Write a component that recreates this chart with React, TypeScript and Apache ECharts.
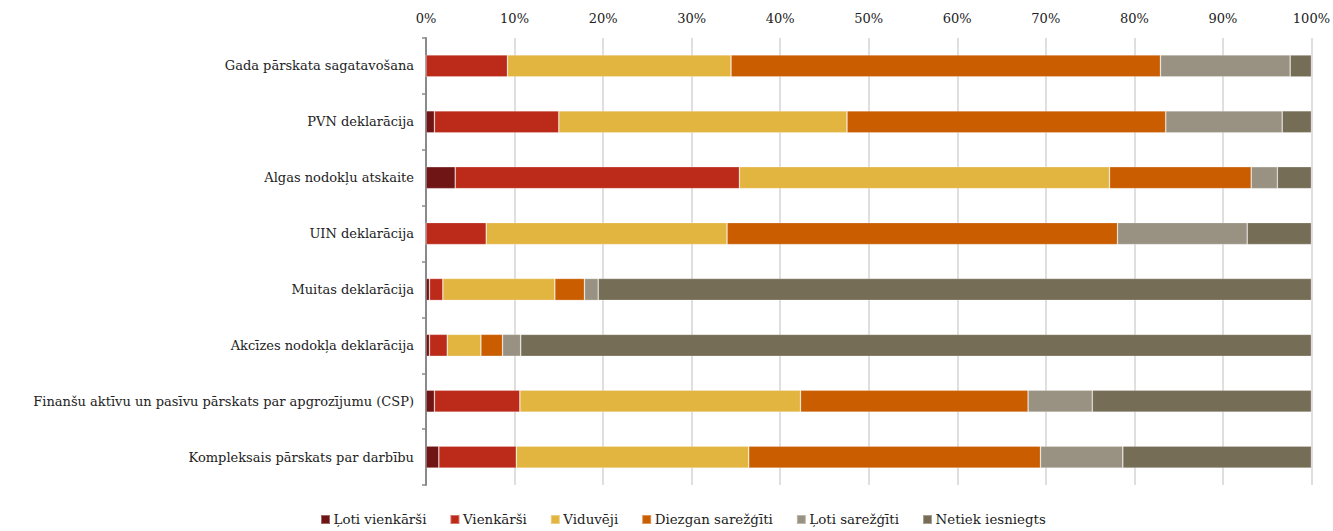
import React, { useEffect, useRef } from "react";
import * as echarts from "echarts";

const categories = [
  "Gada pārskata sagatavošana",
  "PVN deklarācija",
  "Algas nodokļu atskaite",
  "UIN deklarācija",
  "Muitas deklarācija",
  "Akcīzes nodokļa deklarācija",
  "Finanšu aktīvu un pasīvu pārskats par apgrozījumu (CSP)",
  "Kompleksais pārskats par darbību",
];

const seriesNames = [
  "Ļoti vienkārši",
  "Vienkārši",
  "Viduvēji",
  "Diezgan sarežģīti",
  "Ļoti sarežģīti",
  "Netiek iesniegts",
];

const lotiVienkarsi = [0, 0.95, 3.3, 0, 0.4, 0.4, 0.95, 1.45];
const vienkarsi = [9.2, 14.05, 32.1, 6.8, 1.5, 2.0, 9.65, 8.75];
const viduveji = [25.25, 32.55, 41.8, 27.2, 12.65, 3.8, 31.7, 26.25];
const diezganSarezgiti = [48.5, 36.0, 16.0, 44.1, 3.35, 2.45, 25.7, 32.95];
const lotiSarezgiti = [14.65, 13.15, 2.95, 14.65, 1.55, 2.05, 7.25, 9.3];
const netiekIesniegts = [2.4, 3.3, 3.85, 7.25, 80.55, 89.3, 24.75, 21.3];

const seriesValues = [
  lotiVienkarsi,
  vienkarsi,
  viduveji,
  diezganSarezgiti,
  lotiSarezgiti,
  netiekIesniegts,
];

const colors = ["#6F1516", "#BC2A1A", "#E2B541", "#C95D00", "#999282", "#766D56"];

const FONT = "DejaVu Serif";

export default function App() {
  const ref = useRef<HTMLDivElement>(null);
  useEffect(() => {
    document.body.style.margin = "0";
    const chart = echarts.init(ref.current!, null, { renderer: "svg" });
    chart.setOption({
      animation: false,
      color: colors,
      textStyle: { fontFamily: FONT, color: "#222" },
      grid: { left: 426, right: 16, top: 38, bottom: 46, containLabel: false },
      legend: {
        top: 513,
        left: 320,
        padding: 0,
        itemWidth: 9,
        itemHeight: 9,
        itemGap: 23,
        icon: "rect",
        textStyle: { fontFamily: FONT, fontSize: 13.4, color: "#222", padding: [0, 0, 0, -1.5] },
        data: seriesNames,
      },
      xAxis: {
        type: "value",
        position: "top",
        min: 0,
        max: 100,
        interval: 10,
        axisLine: { show: false },
        axisTick: { show: false },
        axisLabel: {
          formatter: "{value}%",
          fontFamily: FONT,
          fontSize: 13,
          color: "#222",
          margin: 13,
        },
        splitLine: { show: true, lineStyle: { color: "#d4d4d4", width: 1.5 } },
      },
      yAxis: {
        type: "category",
        inverse: true,
        data: categories,
        axisLine: { show: true, lineStyle: { color: "#8a8a8a", width: 2 } },
        axisTick: { show: true, length: 4, lineStyle: { color: "#8a8a8a", width: 1.5 } },
        axisLabel: { fontFamily: FONT, fontSize: 13, color: "#222", margin: 12 },
      },
      series: seriesNames.map((name, i) => ({
        name,
        type: "bar",
        stack: "total",
        barWidth: 22,
        data: seriesValues[i],
        itemStyle: { borderColor: "rgba(255,255,255,0.35)", borderWidth: 0.7 },
      })),
    });
    return () => chart.dispose();
  }, []);
  return <div ref={ref} style={{ width: 1333, height: 531 }} />;
}
